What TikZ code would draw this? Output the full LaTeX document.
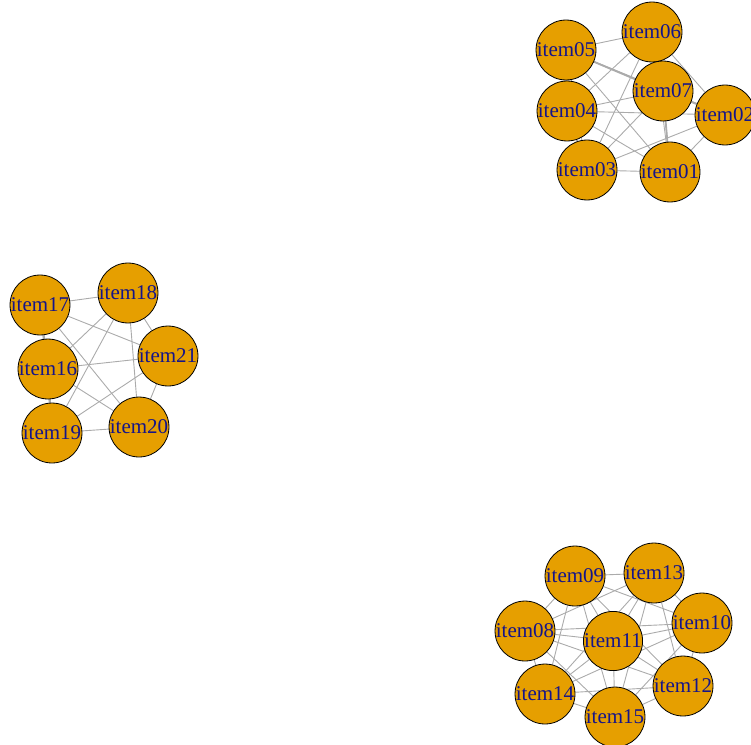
\documentclass[tikz,border=0pt]{standalone}
\usepackage{fontspec}
\setmainfont{Liberation Serif}
\usepackage{xcolor}
\usetikzlibrary{backgrounds}
\definecolor{vfill}{HTML}{E69F00}
\definecolor{vlabel}{HTML}{14148A}
\definecolor{egray}{HTML}{ABABAB}
\tikzset{
  item/.style={circle, draw=black, line width=0.8pt, fill=vfill, minimum size=51pt,
    inner sep=0pt, text=vlabel, font=\fontsize{21}{25}\selectfont},
  edge/.style={draw=egray, line width=0.9pt},
  heavy/.style={draw=egray, line width=1.8pt}
}
\begin{document}
\begin{tikzpicture}[x=1pt, y=-1pt]
    \useasboundingbox (0,0) rectangle (751,744);
    % first group
    \node[item] (item05) at (566,50) {item05};
    \node[item] (item06) at (652,32) {item06};
    \node[item] (item07) at (663,91) {item07};
    \node[item] (item04) at (567,111) {item04};
    \node[item] (item02) at (725,115) {item02};
    \node[item] (item03) at (587,170) {item03};
    \node[item] (item01) at (670,172) {item01};

    % second group
    \node[item] (item17) at (40,305) {item17};
    \node[item] (item18) at (128,293) {item18};
    \node[item] (item21) at (168,356) {item21};
    \node[item] (item16) at (48,369) {item16};
    \node[item] (item19) at (52,433) {item19};
    \node[item] (item20) at (139,427) {item20};

    % third group
    \node[item] (item09) at (575,576) {item09};
    \node[item] (item13) at (654,573) {item13};
    \node[item] (item10) at (702,623) {item10};
    \node[item] (item08) at (525,631) {item08};
    \node[item] (item11) at (613,641) {item11};
    \node[item] (item12) at (683,686) {item12};
    \node[item] (item14) at (545,694) {item14};
    \node[item] (item15) at (615,717) {item15};

    % edges behind the vertices
    \begin{pgfonlayer}{background}
        \foreach \u/\vs in {01/{02,03,04,05,06,07}, 02/{03,04,05,06,07},
            03/{04,05,06,07}, 04/{05,06,07}, 05/{06,07}, 06/{07},
            16/{17,18,19,20,21}, 17/{18,19,20,21}, 18/{19,20,21},
            19/{20,21}, 20/{21},
            08/{09,10,11,12,13,14,15}, 09/{10,11,12,13,14,15},
            10/{11,12,13,14,15}, 11/{12,13,14,15}, 12/{13,14,15},
            13/{14,15}, 14/{15}}
            \foreach \v in \vs
                \draw[edge] (item\u) -- (item\v);
        % heavier edges
        \draw[heavy] (item05) -- (item07) -- (item02);
        \draw[heavy] (item07) -- (item01);
        \draw[heavy] (item05) -- (item04) -- (item03);
        \draw[heavy] (item17) -- (item16) -- (item19);
    \end{pgfonlayer}
\end{tikzpicture}
\end{document}
